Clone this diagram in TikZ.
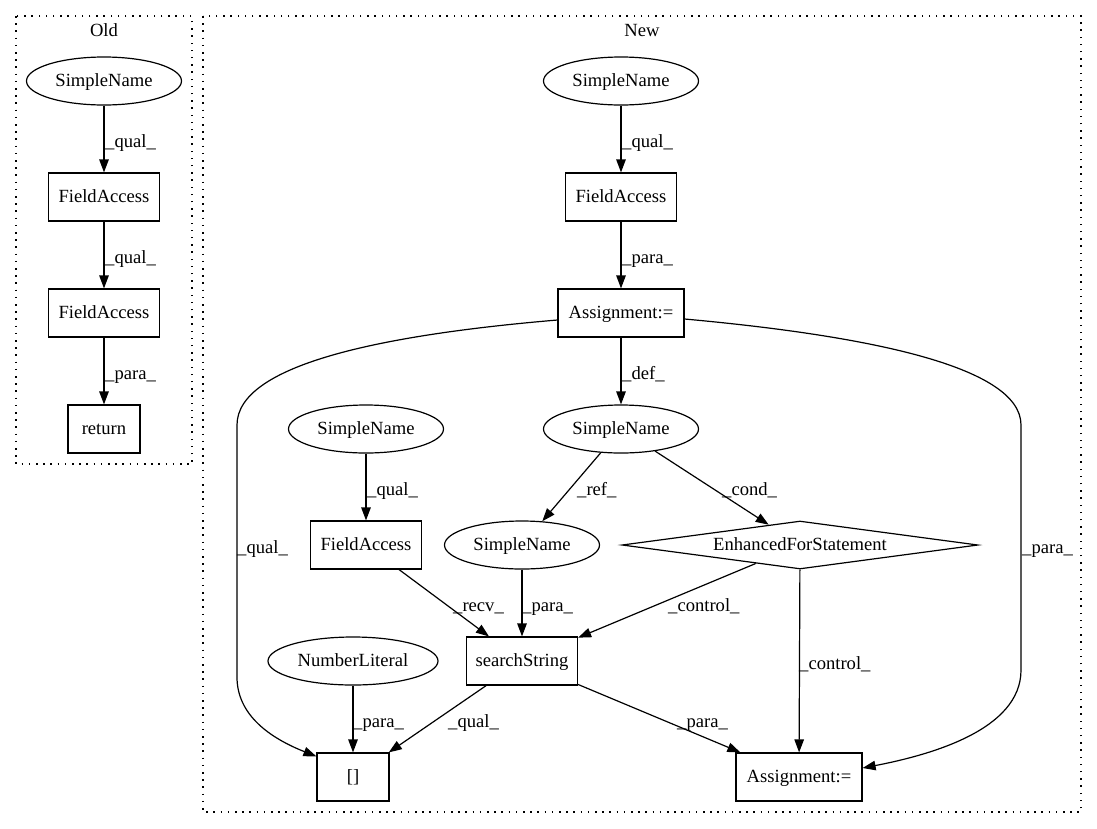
\documentclass[tikz,border=0pt]{standalone}
\usepackage{fontspec}
\setmainfont{Liberation Serif}
\usetikzlibrary{shapes.geometric,arrows.meta,calc}
\begin{document}
\begin{tikzpicture}[x=1pt,y=-1pt,
  every node/.style={font=\fontsize{18.6}{20}\selectfont, inner sep=0pt},
  txt/.style={text height=13pt, text depth=3pt},
  box/.style={txt, draw, line width=1.2pt, rectangle, minimum height=48pt},
  ell/.style={txt, draw, line width=1.2pt, ellipse, minimum width=155pt, minimum height=48pt},
  dia/.style={txt, draw, line width=1.2pt, diamond, aspect=7.4, minimum width=356pt, minimum height=48pt},
  edge/.style={line width=1.2pt, -{Triangle[length=13pt,width=9.5pt]}},
  lab/.style={anchor=base west},
  cluster/.style={line width=1.3pt, dash pattern=on 1.5pt off 5.7pt}
]
\useasboundingbox (0,0) rectangle (1097,828);
% clusters
\draw[cluster] (16,16) rectangle (192,464);
\draw[cluster] (203,16) rectangle (1081,812);
\node[anchor=base] (tOld) at (104,36) {Old};
\node[anchor=base] (tNew) at (642,36) {New};
% Old
\node[ell] (o1) at (104,81) {SimpleName};
\node[box, minimum width=111pt] (o2) at (104,197) {FieldAccess};
\node[box, minimum width=111pt] (o3) at (104,313) {FieldAccess};
\node[box, minimum width=72pt] (o4) at (104,429) {return};
\draw[edge] (o1) -- (o2);
\draw[edge] (o2) -- (o3);
\draw[edge] (o3) -- (o4);
\node[lab] (lo1) at (105,147) {\_qual\_};
\node[lab] (lo2) at (105,263) {\_qual\_};
\node[lab] (lo3) at (105,379) {\_para\_};
% New
\node[ell] (n1) at (621,81) {SimpleName};
\node[box,minimum width=111pt] (n2) at (621,197) {FieldAccess};
\node[box,minimum width=126pt] (n3) at (621,313) {Assignment:=};
\node[ell] (n4) at (621,429) {SimpleName};
\node[ell] (n5) at (366,429) {SimpleName};
\node[box,minimum width=111pt] (n6) at (366,545) {FieldAccess};
\node[ell] (n7) at (522,545) {SimpleName};
\node[dia] (n8) at (800,545) {EnhancedForStatement};
\node[box,minimum width=111pt] (n9) at (522,661) {searchString};
\node[ell,minimum width=170pt] (n10) at (353,661) {NumberLiteral};
\node[box,minimum width=72pt] (n11) at (353,777) {[]};
\node[box,minimum width=126pt] (n12) at (799,777) {Assignment:=};
% edges
\draw[edge] (n1) -- (n2);
\draw[edge] (n2) -- (n3);
\draw[edge] (n3) -- (n4);
\draw[edge] (n4) -- (n7);
\draw[edge] (n4) -- (n8);
\draw[edge] (n5) -- (n6);
\draw[edge] (n6) -- (n9);
\draw[edge] (n7) -- (n9);
\draw[edge] (n8) -- (n9);
\draw[edge] (n8) -- (n12);
\draw[edge] (n10) -- (n11);
\draw[edge] (n9) -- (n11);
\draw[edge] (n9) -- (n12);
\draw[edge] ($(n3.west)+(0,7)$) .. controls (380,335) and (237,365) .. (237,425)
   -- (237,677) .. controls (237,715) and (270,738) .. ($(n11.north west)+(0,4)$);
\draw[edge] ($(n3.east)+(0,6)$) .. controls (860,335) and (1021,365) .. (1021,425)
   -- (1021,670) .. controls (1021,730) and (930,755) .. ($(n12.east)+(0,-9)$);
% labels
\node[lab] (l1) at (622,147) {\_qual\_};
\node[lab] (l2) at (622,263) {\_para\_};
\node[lab] (l3) at (622,379) {\_def\_};
\node[lab] (l4) at (577,495) {\_ref\_};
\node[lab] (l5) at (722,495) {\_cond\_};
\node[lab] (l6) at (367,495) {\_qual\_};
\node[lab] (l7) at (237,553) {\_qual\_};
\node[lab] (l8) at (453,611) {\_recv\_};
\node[lab] (l9) at (522,611) {\_para\_};
\node[lab] (l10) at (668,611) {\_control\_};
\node[lab] (l11) at (799,669) {\_control\_};
\node[lab] (l12) at (1022,553) {\_para\_};
\node[lab] (l13) at (353,727) {\_para\_};
\node[lab] (l14) at (448,727) {\_qual\_};
\node[lab] (l15) at (677,727) {\_para\_};
\end{tikzpicture}
\end{document}
